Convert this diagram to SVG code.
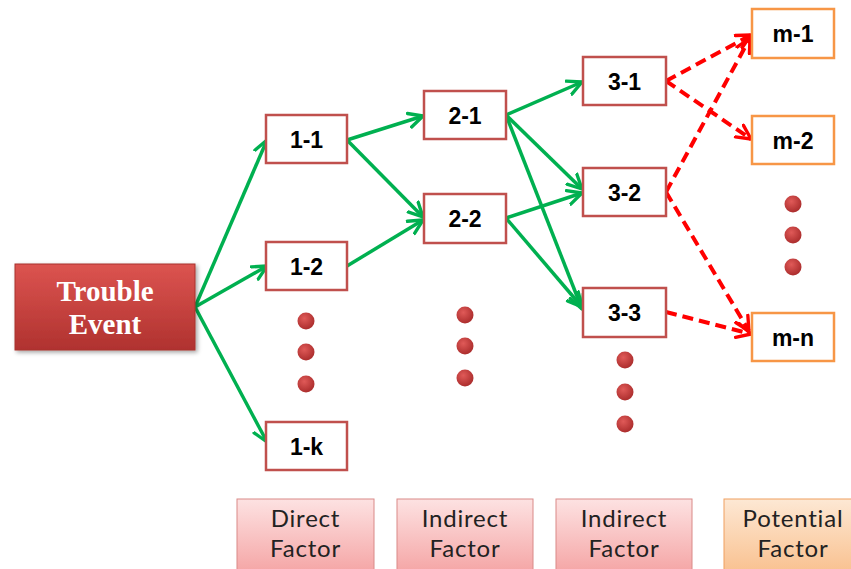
<svg xmlns="http://www.w3.org/2000/svg" width="851" height="569" viewBox="0 0 851 569">
  <defs>
    <linearGradient id="gEvent" x1="0" y1="0" x2="0" y2="1">
      <stop offset="0" stop-color="#dc5450"/>
      <stop offset="1" stop-color="#b0322f"/>
    </linearGradient>
    <linearGradient id="gPink" x1="0" y1="0" x2="0" y2="1">
      <stop offset="0" stop-color="#fde2e2"/>
      <stop offset="1" stop-color="#f4a0a0"/>
    </linearGradient>
    <linearGradient id="gOrange" x1="0" y1="0" x2="0" y2="1">
      <stop offset="0" stop-color="#fde8d4"/>
      <stop offset="1" stop-color="#f9be8a"/>
    </linearGradient>
    <radialGradient id="gDot" cx="0.4" cy="0.35" r="0.7">
      <stop offset="0" stop-color="#e05a58"/>
      <stop offset="1" stop-color="#a82a2a"/>
    </radialGradient>
    <filter id="shadow" x="-10%" y="-10%" width="130%" height="130%">
      <feDropShadow dx="2" dy="2" stdDeviation="2" flood-color="#000" flood-opacity="0.35"/>
    </filter>
    <marker id="arrG" viewBox="0 0 14 14" refX="12" refY="7" markerWidth="18" markerHeight="18" markerUnits="userSpaceOnUse" orient="auto">
      <path d="M1,1.5 L12,7 L1,12.5" fill="none" stroke="#00b050" stroke-width="2.6" stroke-linecap="round" stroke-linejoin="round"/>
    </marker>
    <marker id="arrR" viewBox="0 0 14 14" refX="12" refY="7" markerWidth="18" markerHeight="18" markerUnits="userSpaceOnUse" orient="auto">
      <path d="M1,1.5 L12,7 L1,12.5" fill="none" stroke="#ff0000" stroke-width="2.6" stroke-linecap="round" stroke-linejoin="round"/>
    </marker>
  </defs>
  <style>
    .node rect { fill: #ffffff; stroke: #c0504d; stroke-width: 2.5; }
    .pot rect { fill: #ffffff; stroke: #f79646; stroke-width: 2.5; }
    .lbl { font-family: "Liberation Sans", Arial, sans-serif; font-weight: bold; font-size: 23px; fill: #000; text-anchor: middle; }
    .cat { font-family: "Lato", "Open Sans", sans-serif; font-size: 24px; letter-spacing: 0.8px; fill: #222; text-anchor: middle; }
    .green { fill: none; stroke: #00b050; stroke-width: 3.5; marker-end: url(#arrG); }
    .red { fill: none; stroke: #ff0000; stroke-width: 4; stroke-dasharray: 11 6; marker-end: url(#arrR); }
    .dot { fill: url(#gDot); }
  </style>

  <rect width="851" height="569" fill="#ffffff"/>

  <!-- connectors -->
  <g id="connectors">
    <path class="green" d="M195,307 L267,140"/>
    <path class="green" d="M195,307 L267,266"/>
    <path class="green" d="M195,307 L267,442"/>
    <path class="green" d="M347,140 L423,116"/>
    <path class="green" d="M347,140 L423,217"/>
    <path class="green" d="M347,266 L423,220"/>
    <path class="green" d="M506,115 L582,82"/>
    <path class="green" d="M506,115 L582,189"/>
    <path class="green" d="M506,115 L582,309"/>
    <path class="green" d="M506,218 L582,193"/>
    <path class="green" d="M506,218 L582,307"/>
    <path class="red" d="M666,81 L751,35"/>
    <path class="red" d="M666,81 L751,139"/>
    <path class="red" d="M666,192 L750,38"/>
    <path class="red" d="M666,192 L749,331"/>
    <path class="red" d="M666,312 L751,334"/>
  </g>

  <!-- root event -->
  <g id="trouble-event">
    <rect x="15" y="264" width="180" height="86" fill="url(#gEvent)" stroke="#a8322f" stroke-width="1" filter="url(#shadow)"/>
    <text x="105" y="301" font-family="Liberation Serif, serif" font-weight="bold" font-size="29" fill="#ffffff" text-anchor="middle">Trouble</text>
    <text x="105" y="334" font-family="Liberation Serif, serif" font-weight="bold" font-size="29" fill="#ffffff" text-anchor="middle">Event</text>
  </g>

  <!-- direct factors -->
  <g id="n1-1" class="node"><rect x="266" y="115" width="81" height="48"/><text class="lbl" x="306.5" y="147.5">1-1</text></g>
  <g id="n1-2" class="node"><rect x="266" y="242" width="81" height="48"/><text class="lbl" x="306.5" y="274.5">1-2</text></g>
  <g id="n1-k" class="node"><rect x="266" y="422" width="81" height="48"/><text class="lbl" x="306.5" y="454.5">1-k</text></g>

  <!-- indirect factors, level 2 -->
  <g id="n2-1" class="node"><rect x="424" y="91" width="82" height="48"/><text class="lbl" x="465" y="123.5">2-1</text></g>
  <g id="n2-2" class="node"><rect x="424" y="194" width="82" height="49"/><text class="lbl" x="465" y="226.5">2-2</text></g>

  <!-- indirect factors, level 3 -->
  <g id="n3-1" class="node"><rect x="583" y="57" width="83" height="48"/><text class="lbl" x="624.5" y="89.5">3-1</text></g>
  <g id="n3-2" class="node"><rect x="583" y="168" width="83" height="48"/><text class="lbl" x="624.5" y="200.5">3-2</text></g>
  <g id="n3-3" class="node"><rect x="583" y="288" width="83" height="49"/><text class="lbl" x="624.5" y="320.5">3-3</text></g>

  <!-- potential factors -->
  <g id="m-1" class="pot"><rect x="752" y="9" width="82" height="49"/><text class="lbl" x="793" y="41.5">m-1</text></g>
  <g id="m-2" class="pot"><rect x="752" y="116" width="82" height="48"/><text class="lbl" x="793" y="148.5">m-2</text></g>
  <g id="m-n" class="pot"><rect x="752" y="313" width="82" height="48"/><text class="lbl" x="793" y="345.5">m-n</text></g>

  <!-- ellipsis dots -->
  <g id="dots">
    <circle class="dot" cx="306" cy="321" r="8.5"/>
    <circle class="dot" cx="306" cy="352" r="8.5"/>
    <circle class="dot" cx="306" cy="384" r="8.5"/>
    <circle class="dot" cx="465" cy="315" r="8.5"/>
    <circle class="dot" cx="465" cy="346" r="8.5"/>
    <circle class="dot" cx="465" cy="378" r="8.5"/>
    <circle class="dot" cx="625" cy="360" r="8.5"/>
    <circle class="dot" cx="625" cy="392" r="8.5"/>
    <circle class="dot" cx="625" cy="424" r="8.5"/>
    <circle class="dot" cx="793" cy="204" r="8.5"/>
    <circle class="dot" cx="793" cy="235" r="8.5"/>
    <circle class="dot" cx="793" cy="267" r="8.5"/>
  </g>

  <!-- column categories -->
  <g id="cat-direct">
    <rect x="237" y="499" width="137" height="80" fill="url(#gPink)" stroke="#d98a88" stroke-width="1"/>
    <text class="cat" x="305.5" y="527">Direct</text>
    <text class="cat" x="305.5" y="557">Factor</text>
  </g>
  <g id="cat-indirect-1">
    <rect x="397" y="499" width="136" height="80" fill="url(#gPink)" stroke="#d98a88" stroke-width="1"/>
    <text class="cat" x="465" y="527">Indirect</text>
    <text class="cat" x="465" y="557">Factor</text>
  </g>
  <g id="cat-indirect-2">
    <rect x="556" y="499" width="136" height="80" fill="url(#gPink)" stroke="#d98a88" stroke-width="1"/>
    <text class="cat" x="624" y="527">Indirect</text>
    <text class="cat" x="624" y="557">Factor</text>
  </g>
  <g id="cat-potential">
    <rect x="724" y="499" width="140" height="80" fill="url(#gOrange)" stroke="#f0a060" stroke-width="1"/>
    <text class="cat" x="793" y="527">Potential</text>
    <text class="cat" x="793" y="557">Factor</text>
  </g>
</svg>
